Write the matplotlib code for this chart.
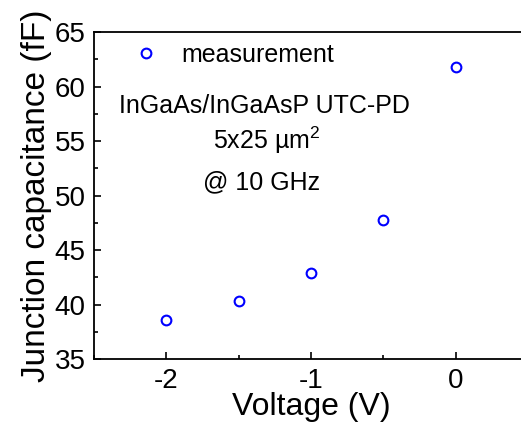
import matplotlib.pyplot as plt
from matplotlib.ticker import MultipleLocator

voltage = [-2.0, -1.5, -1.0, -0.5, 0.0]
capacitance = [38.6, 40.3, 42.9, 47.8, 61.8]

plt.rcParams['font.family'] = ['Liberation Sans', 'DejaVu Sans']
plt.rcParams['axes.unicode_minus'] = False

fig = plt.figure(figsize=(5.21, 4.23), dpi=100)
W, H = 521, 423
# axes box in pixels (right spine falls just outside the picture)
left, right, top, bottom = 94, 528, 32, 359.3
ax = fig.add_axes([left / W, 1 - bottom / H, (right - left) / W, (bottom - top) / H])

ax.plot(voltage, capacitance, linestyle='None', marker='o', markersize=7,
        markerfacecolor='none', markeredgecolor='#0000ff', markeredgewidth=1.5,
        label='measurement')

ax.set_xlim(-2.5, 0.5)
ax.set_ylim(35, 65)
ax.xaxis.set_major_locator(MultipleLocator(1))
ax.xaxis.set_minor_locator(MultipleLocator(0.5))
ax.yaxis.set_major_locator(MultipleLocator(5))
ax.yaxis.set_minor_locator(MultipleLocator(2.5))
ax.tick_params(which='both', direction='in', top=False, right=False, labelsize=20, width=1.2)
ax.tick_params(which='major', length=5, pad=6)
ax.tick_params(which='minor', length=3)
for s in ax.spines.values():
    s.set_linewidth(1.3)

ax.set_xlabel('Voltage (V)', fontsize=23, labelpad=-1)
ax.set_ylabel('Junction capacitance (fF)', fontsize=24, labelpad=2)

ax.legend(loc='upper left', bbox_to_anchor=(0.037, 1.0), frameon=False,
          fontsize=18, handletextpad=0.4, borderaxespad=0.05)

def px_text(x, y, s):
    fig.text(x / W, 1 - y / H, s, fontsize=18, ha='center', va='center')

px_text(264, 106, 'InGaAs/InGaAsP UTC-PD')
px_text(267, 140, r'5x25 µm$^{\mathregular{2}}$')
px_text(262, 182, '@ 10 GHz')

fig.savefig('out.png', dpi=100)
